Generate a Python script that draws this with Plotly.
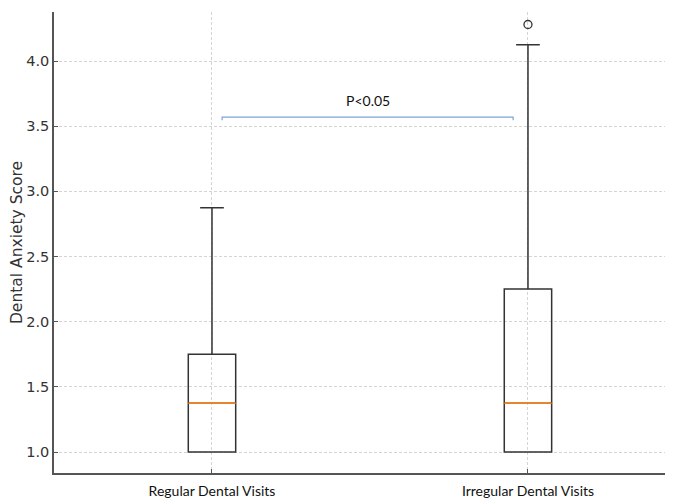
import plotly.graph_objects as go

categories = ["Regular Dental Visits", "Irregular Dental Visits"]
positions = [1, 2]
q1 = [1.0, 1.0]
median = [1.375, 1.375]
q3 = [1.75, 2.25]
lower_whisker = [1.0, 1.0]
upper_whisker = [2.875, 4.125]
outlier_pos = [2]
outlier_vals = [4.28]
y_ticks = [1.0, 1.5, 2.0, 2.5, 3.0, 3.5, 4.0]
sig_label = "P<0.05"
sig_y = 3.57

DEJAVU = "'DejaVu Sans', DejaVuSans, Verdana, sans-serif"

box_w = 0.15
fig = go.Figure()
for i in range(2):
    fig.add_trace(go.Box(
        x=[positions[i]], q1=[q1[i]], median=[median[i]], q3=[q3[i]],
        lowerfence=[lower_whisker[i]], upperfence=[upper_whisker[i]],
        width=box_w, whiskerwidth=0.5, boxpoints=False,
        fillcolor="rgba(0,0,0,0)", line=dict(color="#333333", width=1.5),
        showlegend=False, hoverinfo="skip"))
    fig.add_trace(go.Scatter(
        x=[positions[i] - box_w / 2, positions[i] + box_w / 2],
        y=[median[i], median[i]], mode="lines",
        line=dict(color="#ff7f0e", width=1.5), showlegend=False, hoverinfo="skip"))

fig.add_trace(go.Scatter(
    x=outlier_pos, y=outlier_vals, mode="markers",
    marker=dict(symbol="circle-open", size=8, color="#333333", line=dict(width=1.3)),
    showlegend=False, hoverinfo="skip"))

# significance bracket
bx0, bx1 = 1.032, 1.953
fig.add_trace(go.Scatter(
    x=[bx0, bx0, bx1, bx1], y=[sig_y - 0.025, sig_y, sig_y, sig_y - 0.025],
    mode="lines", line=dict(color="#7fa3d6", width=1.2),
    showlegend=False, hoverinfo="skip"))
fig.add_annotation(x=(bx0 + bx1) / 2, y=sig_y + 0.125, text=sig_label, showarrow=False,
                   font=dict(family="Lato", size=14, color="#111"))

grid = dict(showgrid=True, gridcolor="#d4d4d4", griddash="3px,2px", gridwidth=1)
fig.update_xaxes(range=[0.5, 2.459], tickvals=positions, ticktext=categories,
                 showline=True, linecolor="#555", linewidth=1.5,
                 ticks="inside", ticklen=4, tickcolor="#555", automargin=False,
                 ticklabelstandoff=4,
                 tickfont=dict(family="Lato", size=14, color="#111"),
                 zeroline=False, **grid)
fig.update_yaxes(range=[0.839, 4.376], tickvals=y_ticks, ticktext=[f"{v:.1f}" for v in y_ticks],
                 showline=True, linecolor="#555", linewidth=1.5,
                 ticks="inside", ticklen=4, tickcolor="#555", automargin=False,
                 tickfont=dict(family=DEJAVU, size=14.5, color="#333"),
                 title=dict(text="Dental Anxiety Score", standoff=9,
                            font=dict(family=DEJAVU, size=15.5, color="#333")),
                 zeroline=False, **grid)
# page body has an 8px default margin, so the figure is offset by 8px
fig.update_layout(width=665, height=494, margin=dict(l=46, r=0, t=4, b=29),
                  plot_bgcolor="white", paper_bgcolor="white")
fig.write_html("out.html")
